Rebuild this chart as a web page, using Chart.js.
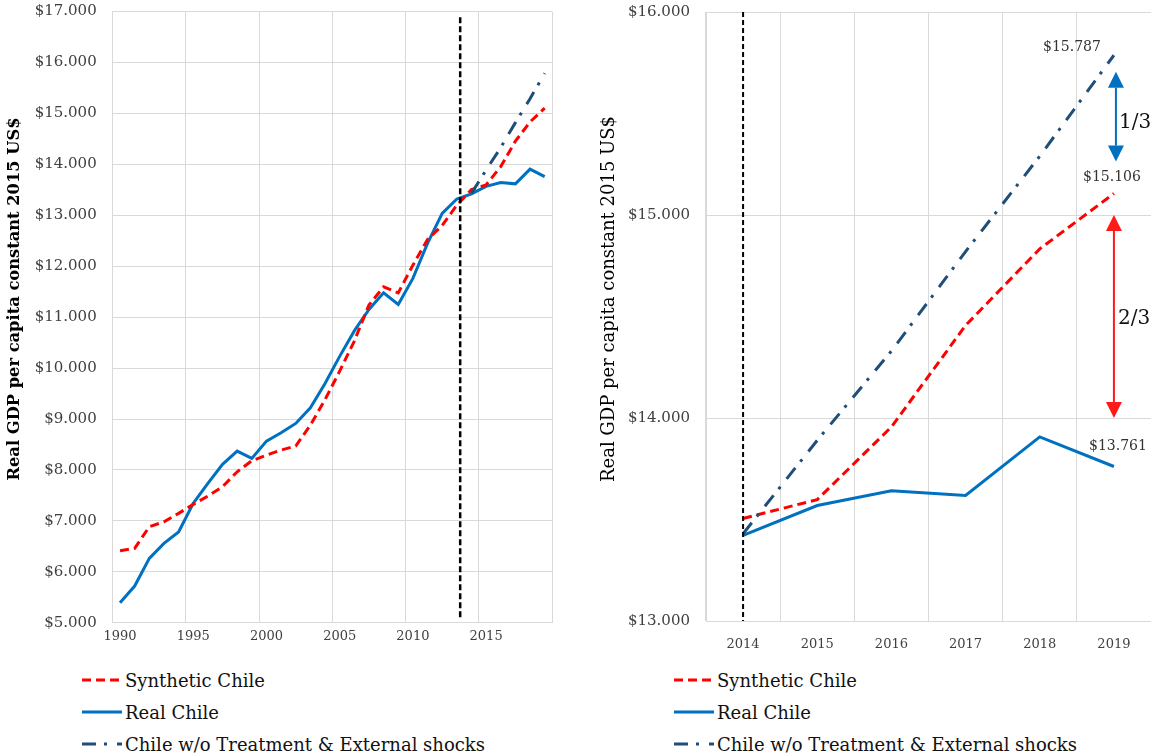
<!DOCTYPE html>
<html>
<head>
<meta charset="utf-8">
<script src="https://cdn.jsdelivr.net/npm/chart.js@4.4.1/dist/chart.umd.min.js"></script>
<style>
html,body{margin:0;padding:0;background:#fff;width:1151px;height:755px;overflow:hidden;}
#left{position:absolute;left:0;top:0;width:575px;height:660px;}
#right{position:absolute;left:576px;top:0;width:575px;height:660px;}
.legend{position:absolute;font-family:'DejaVu Serif';font-size:18px;color:#111;}
.legend .row{display:flex;align-items:center;height:32px;white-space:nowrap;}
.legend svg{margin-right:3px;display:block;}
</style>
</head>
<body>
<div id="left"><canvas id="c1"></canvas></div>
<div id="right"><canvas id="c2"></canvas></div>
<div class="legend" id="leg1" style="left:82px;top:664px"></div>
<div class="legend" id="leg2" style="left:674px;top:664px"></div>
<script>
// ---------------- DATA ----------------
const years = ['1990','1991','1992','1993','1994','1995','1996','1997','1998','1999',
               '2000','2001','2002','2003','2004','2005','2006','2007','2008','2009',
               '2010','2011','2012','2013','2014','2015','2016','2017','2018','2019'];
const syntheticChile = [6413,6460,6884,6982,7147,7324,7487,7670,7964,8180,
                        8291,8389,8470,8880,9380,9940,10530,11240,11595,11477,
                        12021,12525,12801,13199,13505,13598,13956,14456,14833,15106];
const realChile = [5392,5720,6264,6558,6780,7343,7736,8109,8370,8226,
                   8566,8729,8913,9220,9699,10230,10730,11150,11477,11249,
                   11760,12447,13036,13320,13422,13569,13642,13618,13907,13761];
const withoutShocks = [null,null,null,null,null,null,null,null,null,null,
                       null,null,null,null,null,null,null,null,null,null,
                       null,null,null,null,13430,13890,14330,14820,15290,15787];
const leftXTickLabels = ['1990','1995','2000','2005','2010','2015'];
const leftYTicks = [5000,6000,7000,8000,9000,10000,11000,12000,13000,14000,15000,16000,17000];
const rightStartYear = '2014';
const rightYTicks = [13000,14000,15000,16000];
const treatmentMarkLeft = 2013.23;   // position of the vertical dashed line (year)
const treatmentMarkRight = 2014;
const gapArrows = [
  {from: 15263, to: 15706, label: '1/3'},
  {from: 14000, to: 15000, label: '2/3'}
];
const seriesNames = ['Synthetic Chile','Real Chile','Chile w/o Treatment & External shocks'];
const yTitle = 'Real GDP per capita constant 2015 US$';

// ---------------- HELPERS ----------------
const money = v => '$' + String(Math.round(v)).replace(/\B(?=(\d{3})+(?!\d))/g, '.');
const rIdx = years.indexOf(rightStartYear);
const rightYears = years.slice(rIdx);

Chart.defaults.font.family = "'DejaVu Serif'";
Chart.defaults.color = '#404040';

const COLORS = {synthetic:'#FF0000', real:'#0070C0', without:'#1F4E79', grid:'#D9D9D9'};

function makeDatasets(a, b, c, widths) {
  return [
    {label: seriesNames[0], data: a, borderColor: COLORS.synthetic, backgroundColor: COLORS.synthetic,
     borderWidth: widths, borderDash: [9,5], pointRadius: 0, tension: 0, order: 1, borderCapStyle:'butt'},
    {label: seriesNames[1], data: b, borderColor: COLORS.real, backgroundColor: COLORS.real,
     borderWidth: widths, pointRadius: 0, tension: 0, order: 2},
    {label: seriesNames[2], data: c, borderColor: COLORS.without, backgroundColor: COLORS.without,
     borderWidth: widths, borderDash: [14,8,3,10], pointRadius: 0, tension: 0, order: 0, spanGaps: false}
  ];
}

// ---------------- PLUGINS ----------------
const axisTitlePlugin = {
  id: 'axisTitle',
  afterDraw(chart, args, o) {
    const ctx = chart.ctx;
    ctx.save();
    ctx.translate(o.x, o.y);
    ctx.rotate(-Math.PI / 2);
    ctx.font = o.font;
    ctx.fillStyle = o.color;
    ctx.textAlign = 'center';
    ctx.textBaseline = 'middle';
    ctx.fillText(o.text, 0, 0);
    ctx.restore();
  }
};

const markerPlugin = {
  id: 'marker',
  afterDatasetsDraw(chart, args, o) {
    const ctx = chart.ctx, xs = chart.scales.x, ys = chart.scales.y;
    const px = xs.getPixelForValue(o.index);
    ctx.save();
    ctx.strokeStyle = '#000';
    ctx.lineWidth = o.width;
    ctx.setLineDash(o.dash);
    ctx.beginPath();
    ctx.moveTo(px, ys.getPixelForValue(o.top));
    ctx.lineTo(px, ys.getPixelForValue(o.bottom));
    ctx.stroke();
    ctx.restore();
  }
};

const endLabelPlugin = {
  id: 'endLabels',
  afterDatasetsDraw(chart, args, o) {
    if (!o.items) return;
    const ctx = chart.ctx;
    ctx.save();
    ctx.font = o.font;
    ctx.fillStyle = o.color;
    ctx.textAlign = 'center';
    ctx.textBaseline = 'middle';
    o.items.forEach(it => {
      const meta = chart.getDatasetMeta(it.dataset);
      const last = meta.data.length - 1;
      const pt = meta.data[last];
      const v = chart.data.datasets[it.dataset].data[last];
      ctx.fillText(money(v), pt.x + it.dx, pt.y + it.dy);
    });
    ctx.restore();
  }
};

const arrowPlugin = {
  id: 'gapArrows',
  afterDatasetsDraw(chart, args, o) {
    if (!o.items) return;
    const ctx = chart.ctx, xs = chart.scales.x, ys = chart.scales.y;
    const head = 16, half = 8;
    o.items.forEach((a, i) => {
      const st = o.styles[i];
      const px = xs.getPixelForValue(o.at) + st.dx;
      const yb = ys.getPixelForValue(a.from);
      const yt = ys.getPixelForValue(a.to);
      ctx.save();
      ctx.strokeStyle = st.color;
      ctx.fillStyle = st.color;
      ctx.lineWidth = 2;
      ctx.beginPath();
      ctx.moveTo(px, yt + head);
      ctx.lineTo(px, yb - head);
      ctx.stroke();
      ctx.beginPath();
      ctx.moveTo(px, yt); ctx.lineTo(px - half, yt + head); ctx.lineTo(px + half, yt + head); ctx.closePath();
      ctx.fill();
      ctx.beginPath();
      ctx.moveTo(px, yb); ctx.lineTo(px - half, yb - head); ctx.lineTo(px + half, yb - head); ctx.closePath();
      ctx.fill();
      ctx.font = o.font;
      ctx.fillStyle = '#111';
      ctx.textAlign = 'left';
      ctx.textBaseline = 'middle';
      ctx.fillText(a.label, px + st.labelDx, (yt + yb) / 2 + st.labelDy);
      ctx.restore();
    });
  }
};

// ---------------- LEFT CHART ----------------
const leftChart = new Chart(document.getElementById('c1'), {
  type: 'line',
  data: { labels: years, datasets: makeDatasets(syntheticChile, realChile, withoutShocks, 3) },
  plugins: [axisTitlePlugin, markerPlugin, endLabelPlugin, arrowPlugin],
  options: {
    responsive: true, maintainAspectRatio: false, animation: false,
    layout: { padding: { left: 0, right: 23, top: 11.6, bottom: 0 } },
    plugins: {
      legend: { display: false }, tooltip: { enabled: false },
      axisTitle: { text: yTitle, x: 15, y: 299, font: "bold 16.3px 'DejaVu Serif'", color: '#000' },
      marker: { index: treatmentMarkLeft - Number(years[0]), top: 16890, bottom: 5090, width: 2.5, dash: [6,3] },
      endLabels: {}, gapArrows: {}
    },
    scales: {
      x: {
        type: 'category', offset: true,
        grid: { offset: true, drawTicks: false,
                color: c => (c.index === undefined || c.index % 5 === 0) ? COLORS.grid : 'rgba(0,0,0,0)' },
        border: { color: COLORS.grid },
        ticks: { autoSkip: false, maxRotation: 0, font: { size: 13 }, padding: 6,
                 callback: function(v) { const l = this.getLabelForValue(v); return leftXTickLabels.includes(l) ? l : ''; } },
        afterFit: s => { s.height = 37.3; }
      },
      y: {
        min: leftYTicks[0], max: leftYTicks[leftYTicks.length - 1],
        afterBuildTicks: s => { s.ticks = leftYTicks.map(v => ({ value: v })); },
        grid: { color: COLORS.grid, drawTicks: true, tickLength: 16, tickColor: 'rgba(0,0,0,0)' },
        border: { color: COLORS.grid },
        ticks: { font: { size: 15 }, padding: 0, callback: v => money(v) },
        afterFit: s => { s.width = 112.7; }
      }
    }
  }
});

// ---------------- RIGHT CHART ----------------
const rightChart = new Chart(document.getElementById('c2'), {
  type: 'line',
  data: { labels: rightYears,
          datasets: makeDatasets(syntheticChile.slice(rIdx), realChile.slice(rIdx), withoutShocks.slice(rIdx), 3) },
  plugins: [axisTitlePlugin, markerPlugin, endLabelPlugin, arrowPlugin],
  options: {
    responsive: true, maintainAspectRatio: false, animation: false,
    layout: { padding: { left: 0, right: 0, top: 12, bottom: 0 } },
    plugins: {
      legend: { display: false }, tooltip: { enabled: false },
      axisTitle: { text: yTitle, x: 33, y: 299, font: "18px 'DejaVu Serif'", color: '#000' },
      marker: { index: rightYears.indexOf(String(treatmentMarkRight)), top: rightYTicks[rightYTicks.length - 1], bottom: rightYTicks[0], width: 2, dash: [5,3] },
      endLabels: { font: "14px 'DejaVu Serif'", color: '#333',
                   items: [ {dataset: 2, dx: -42, dy: -8}, {dataset: 0, dx: -2, dy: -16}, {dataset: 1, dx: 4, dy: -20} ] },
      gapArrows: { at: rightYears.length - 1, font: "20px 'DejaVu Serif'", items: gapArrows,
                   styles: [ {color: '#0070C0', dx: 2, labelDx: 3, labelDy: 6}, {color: '#FF1A1A', dx: 0, labelDx: 4, labelDy: 2} ] }
    },
    scales: {
      x: {
        type: 'category', offset: true,
        grid: { offset: true, drawTicks: false, color: COLORS.grid },
        border: { color: COLORS.grid },
        ticks: { autoSkip: false, maxRotation: 0, font: { size: 13 }, padding: 16 },
        afterFit: s => { s.height = 39; }
      },
      y: {
        min: rightYTicks[0], max: rightYTicks[rightYTicks.length - 1],
        afterBuildTicks: s => { s.ticks = rightYTicks.map(v => ({ value: v })); },
        grid: { color: COLORS.grid, drawTicks: true, tickLength: 16, tickColor: 'rgba(0,0,0,0)' },
        border: { color: COLORS.grid },
        ticks: { font: { size: 15 }, padding: 0, callback: v => money(v) },
        afterFit: s => { s.width = 130; }
      }
    }
  }
});

// ---------------- HTML LEGENDS ----------------
function buildLegend(chart, el) {
  const svgNS = 'http://www.w3.org/2000/svg';
  chart.data.datasets.forEach(ds => {
    const row = document.createElement('div');
    row.className = 'row';
    const svg = document.createElementNS(svgNS, 'svg');
    svg.setAttribute('width', '40'); svg.setAttribute('height', '6');
    const line = document.createElementNS(svgNS, 'line');
    line.setAttribute('x1', '0'); line.setAttribute('y1', '3');
    line.setAttribute('x2', '40'); line.setAttribute('y2', '3');
    line.setAttribute('stroke', ds.borderColor);
    line.setAttribute('stroke-width', '3');
    if (ds.borderDash) line.setAttribute('stroke-dasharray', ds.borderDash.join(' '));
    svg.appendChild(line);
    const span = document.createElement('span');
    span.textContent = ds.label;
    row.appendChild(svg); row.appendChild(span);
    el.appendChild(row);
  });
}
buildLegend(leftChart, document.getElementById('leg1'));
buildLegend(rightChart, document.getElementById('leg2'));
</script>
</body>
</html>
